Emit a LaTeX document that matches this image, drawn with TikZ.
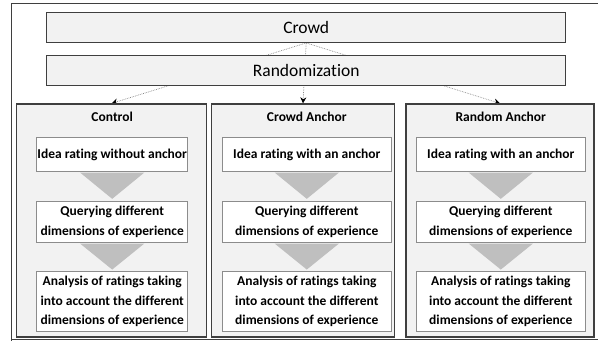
\documentclass[tikz,border=0pt]{standalone}
\usepackage{fontspec}
\setmainfont[Ligatures=NoCommon]{Carlito}
\usetikzlibrary{arrows.meta,backgrounds,calc}
\definecolor{edge}{HTML}{3F3F3F}
\definecolor{barfill}{HTML}{F2F2F2}
\definecolor{stepedge}{HTML}{8C8C8C}
\definecolor{funnel}{HTML}{BFBFBF}
\definecolor{link}{HTML}{8A8A8A}
\begin{document}
\begin{tikzpicture}[x=1pt,y=-1pt,
  bar/.style={draw=edge, line width=1.3pt, fill=barfill, minimum width=519pt,
    minimum height=30pt, inner sep=0pt, font=\fontsize{17.5}{20}\selectfont},
  group/.style={draw=edge, line width=1.3pt, fill=barfill, minimum height=233pt, inner sep=0pt},
  grouplabel/.style={font=\bfseries\fontsize{13.5}{16}\selectfont, inner sep=0pt},
  stepbox/.style={draw=stepedge, line width=0.9pt, fill=white, align=center, inner sep=0pt,
    font=\bfseries\fontsize{13.5}{19.5}\selectfont},
  link/.style={draw=link, densely dotted, line width=0.7pt,
    -{Stealth[length=6pt,width=6pt,color=black]}}]
\useasboundingbox (0,0) rectangle (598,341);

% frame around the whole figure
\draw[edge, line width=0.8pt] (598,3) -- (11,3) -- (11,341);
\draw[edge, line width=0.8pt] (11,339.6) -- (598,339.6);

% top bars
\node[bar] (crowd) at (306.2,27.3) {Crowd};
\node[bar] (rand) at (306.2,70.7) {Randomization};

% the three experimental groups
\node[group, minimum width=190pt] (ctl) at (111.7,220.5) {};
\node[group, minimum width=182.6pt] (cra) at (303,220.5) {};
\node[group, minimum width=188pt] (rna) at (500,220.5) {};

% assignment links, passing behind the randomization bar
\begin{scope}[on background layer]
\draw[link] (crowd.south) -- (ctl.north);
\draw[link] (crowd.south) -- (cra.north);
\draw[link] (crowd.south) -- (rna.north);
\end{scope}

% group contents: label, three steps, funnels between them
\foreach \g/\cx/\w/\lab/\first in {
  ctl/112.2/151/Control/Idea rating without anchor,
  cra/306.8/168.3/Crowd Anchor/Idea rating with an anchor,
  rna/500.8/169.7/Random Anchor/Idea rating with an anchor}{
  \node[grouplabel] (\g-lab) at (\cx,117.3) {\lab};
  \node[stepbox, minimum width=\w pt, minimum height=34.4pt] (\g-s1) at (\cx,154.5) {\first};
  \node[stepbox, minimum width=\w pt, minimum height=41.7pt] (\g-s2) at (\cx,221.85)
    {Querying different\\dimensions of experience};
  \node[stepbox, minimum width=\w pt, minimum height=60pt] (\g-s3) at (\cx,301.7)
    {Analysis of ratings taking\\into account the different\\dimensions of experience};
  \fill[funnel] ($(\g-s1.south)+(-32,0.5)$) -- ($(\g-s1.south)+(32,0.5)$)
    -- ($(\g-s2.north)+(0,-1.7)$) -- cycle;
  \fill[funnel] ($(\g-s2.south)+(-32,0.5)$) -- ($(\g-s2.south)+(32,0.5)$)
    -- ($(\g-s3.north)+(0,-1.7)$) -- cycle;
}
\end{tikzpicture}
\end{document}
